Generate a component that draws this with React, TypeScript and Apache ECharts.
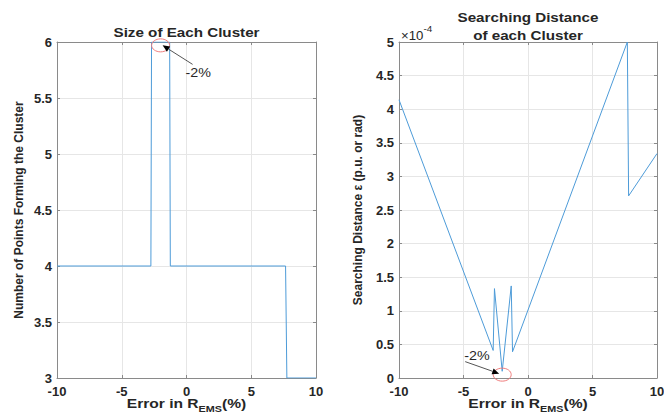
import React, { useEffect, useRef } from "react";
import * as echarts from "echarts";

// Left panel: size of each cluster vs error in R_EMS (%)
const clusterErr = [-10, -2.75, -2.7, -1.3, -1.25, 7.65, 7.75, 10];
const clusterSize = [4, 4, 6, 6, 4, 4, 3, 3];

// Right panel: searching distance epsilon vs error in R_EMS (%)
const distErr = [-10, -2.7, -2.6, -2.0, -1.3, -1.2, 7.7, 7.8, 10];
const distEps = [4.14e-4, 0.41e-4, 1.33e-4, 0.1e-4, 1.37e-4, 0.39e-4, 5.0e-4, 2.71e-4, 3.34e-4];

const xRange = [-10, 10];
const sizeRange = [3, 6];
const epsRange = [0, 5e-4];

const leftTitle = "Size of Each Cluster";
const rightTitle = ["Searching Distance", "of each Cluster"];
const leftYName = "Number of Points Forming the Cluster";
const rightYName = "Searching Distance \u03b5 (p.u. or rad)";
const xTitleParts = ["Error in R", "EMS", "(%)"];
const expParts = ["\u00d710", "-4"];
const annotation = "-2%";
const highlightX = -2;

const FONT = "'Liberation Sans', Arial, Helvetica, sans-serif";
const TXT = "#262626";
const AXIS = "#8a8a8a";
const GRIDC = "#e6e6e6";
const LINE = "#4d9bd8";
const SX = 1.17;

export default function App() {
  const ref = useRef<HTMLDivElement>(null);
  useEffect(() => {
    if (!ref.current) return;
    const chart = echarts.init(ref.current, undefined, { renderer: "svg" });

    const mainX = (gi: number) => ({
      gridIndex: gi,
      type: "value",
      min: xRange[0],
      max: xRange[1],
      interval: 5,
      position: "bottom",
      axisLine: { show: true, onZero: false, lineStyle: { color: AXIS } },
      axisTick: { show: true, inside: true, length: 3, lineStyle: { color: AXIS } },
      axisLabel: { fontFamily: FONT, fontSize: 13, lineHeight: 13, fontWeight: "bold", color: TXT, margin: 7 },
      splitLine: { show: true, lineStyle: { color: GRIDC } },
    });
    const topX = (gi: number) => ({
      gridIndex: gi,
      type: "value",
      min: xRange[0],
      max: xRange[1],
      interval: 5,
      position: "top",
      axisLine: { show: true, onZero: false, lineStyle: { color: AXIS } },
      axisTick: { show: true, inside: true, length: 3, lineStyle: { color: AXIS } },
      axisLabel: { show: false },
      splitLine: { show: false },
    });
    const rightY = (gi: number, r: number[], interval: number) => ({
      gridIndex: gi,
      type: "value",
      min: r[0],
      max: r[1],
      interval,
      position: "right",
      axisLine: { show: true, onZero: false, lineStyle: { color: AXIS } },
      axisTick: { show: true, inside: true, length: 3, lineStyle: { color: AXIS } },
      axisLabel: { show: false },
      splitLine: { show: false },
    });

    chart.setOption({
      animation: false,
      backgroundColor: "#ffffff",
      grid: [
        { left: 57, top: 42, width: 259, height: 336, show: false, outerBoundsMode: "none", containLabel: false },
        { left: 399, top: 42, width: 258, height: 336, show: false, outerBoundsMode: "none", containLabel: false },
      ],
      xAxis: [mainX(0), mainX(1), topX(0), topX(1)],
      yAxis: [
        {
          gridIndex: 0,
          type: "value",
          min: sizeRange[0],
          max: sizeRange[1],
          interval: 0.5,
          axisLine: { show: true, onZero: false, lineStyle: { color: AXIS } },
          axisTick: { show: true, inside: true, length: 3, lineStyle: { color: AXIS } },
          axisLabel: { fontFamily: FONT, fontSize: 13, lineHeight: 13, fontWeight: "bold", color: TXT, margin: 5 },
          splitLine: { show: true, lineStyle: { color: GRIDC } },
          name: leftYName,
          nameLocation: "middle",
          nameRotate: 90,
          nameGap: 32,
          nameTextStyle: { fontFamily: FONT, fontSize: 12, fontWeight: "bold", color: TXT },
        },
        {
          gridIndex: 1,
          type: "value",
          min: epsRange[0],
          max: epsRange[1],
          interval: 0.5e-4,
          axisLine: { show: true, onZero: false, lineStyle: { color: AXIS } },
          axisTick: { show: true, inside: true, length: 3, lineStyle: { color: AXIS } },
          axisLabel: {
            fontFamily: FONT,
            fontSize: 13,
            lineHeight: 13,
            fontWeight: "bold",
            color: TXT,
            margin: 5,
            formatter: (v: number) => String(+(v * 1e4).toFixed(1)),
          },
          splitLine: { show: true, lineStyle: { color: GRIDC } },
          name: rightYName,
          nameLocation: "middle",
          nameRotate: 90,
          nameGap: 35,
          nameTextStyle: { fontFamily: FONT, fontSize: 12, fontWeight: "bold", color: TXT },
        },
        rightY(0, sizeRange, 0.5),
        rightY(1, epsRange, 0.5e-4),
      ],
      series: [
        {
          type: "line",
          xAxisIndex: 0,
          yAxisIndex: 0,
          data: clusterErr.map((x, i) => [x, clusterSize[i]]),
          showSymbol: false,
          symbol: "none",
          lineStyle: { color: LINE, width: 1 },
        },
        {
          type: "line",
          xAxisIndex: 1,
          yAxisIndex: 1,
          data: distErr.map((x, i) => [x, distEps[i]]),
          showSymbol: false,
          symbol: "none",
          lineStyle: { color: LINE, width: 1 },
        },
      ],
    });

    const arrow = (tail: number[], tip: number[]) => {
      const dx = tip[0] - tail[0];
      const dy = tip[1] - tail[1];
      const len = Math.hypot(dx, dy);
      const ux = dx / len, uy = dy / len;
      const L = 7, W = 3;
      const bx = tip[0] - ux * L, by = tip[1] - uy * L;
      return [
        {
          type: "line",
          shape: { x1: tail[0], y1: tail[1], x2: bx, y2: by },
          style: { stroke: "#555", lineWidth: 1 },
          z: 100,
        },
        {
          type: "polygon",
          shape: {
            points: [
              [tip[0], tip[1]],
              [bx - uy * W, by + ux * W],
              [bx + uy * W, by - ux * W],
            ],
          },
          style: { fill: "#000" },
          z: 100,
        },
      ];
    };

    const c1 = chart.convertToPixel({ gridIndex: 0 }, [highlightX, 5.97]) as number[];
    const c2 = chart.convertToPixel({ gridIndex: 1 }, [highlightX, 0.05e-4]) as number[];
    const ellipse = (c: number[]) => ({
      type: "ellipse",
      shape: { cx: c[0], cy: c[1], rx: 9, ry: 6.5 },
      style: { fill: "none", stroke: "#f07d7d", lineWidth: 1 },
      z: 100,
    });
    const txt = (x: number, y: number, text: string, size = 13, bold = true, align = "center", sx = SX) => ({
      type: "text",
      x,
      y,
      scaleX: sx,
      style: {
        text,
        fontFamily: FONT,
        fontSize: size,
        fontWeight: bold ? "bold" : "normal",
        fill: TXT,
        textAlign: align,
        textVerticalAlign: "middle",
      },
      z: 100,
    });
    const xTitle = (cx: number) => ({
      type: "text",
      x: cx,
      y: 403,
      scaleX: 1.2,
      style: {
        text: `{a|${xTitleParts[0]}}{s|${xTitleParts[1]}}{a|${xTitleParts[2]}}`,
        textAlign: "center",
        textVerticalAlign: "middle",
        rich: {
          a: { fontFamily: FONT, fontSize: 13, fontWeight: "bold", fill: TXT, lineHeight: 15 },
          s: { fontFamily: FONT, fontSize: 9, fontWeight: "bold", fill: TXT, lineHeight: 10, padding: [11, 0, 0, 0] },
        },
      },
      z: 100,
    });
    const l0 = chart.convertToPixel({ gridIndex: 0 }, [0, 0]) as number[];
    const l1 = chart.convertToPixel({ gridIndex: 1 }, [0, 0]) as number[];

    chart.setOption({
      graphic: [
        txt(186.5, 32, leftTitle),
        txt(528, 17, rightTitle[0]),
        txt(528, 35, rightTitle[1]),
        {
          type: "text",
          x: 401,
          y: 36,
          scaleX: 1.1,
          style: {
            text: `{m|${expParts[0]}}{e|${expParts[1]}}`,
            textVerticalAlign: "middle",
            rich: {
              m: { fontFamily: FONT, fontSize: 12, fill: TXT, lineHeight: 16 },
              e: { fontFamily: FONT, fontSize: 9, fill: TXT, lineHeight: 16, padding: [0, 0, 14, 0] },
            },
          },
          z: 100,
        },
        xTitle(l0[0]),
        xTitle(l1[0]),
        ellipse(c1),
        ...arrow([c1[0] + 32, c1[1] + 19], [c1[0] + 2, c1[1]]),
        txt(c1[0] + 25, c1[1] + 27, annotation, 13, false, "left", 1.1),
        ellipse(c2),
        ...arrow([c2[0] - 37, c2[1] - 13], [c2[0] - 3, c2[1] - 1]),
        txt(c2[0] - 38, c2[1] - 19, annotation, 13, false, "left", 1.1),
      ],
    });

    return () => chart.dispose();
  }, []);

  return (
    <div
      ref={ref}
      style={{ position: "fixed", left: 0, top: 0, width: 664, height: 415, background: "#fff" }}
    />
  );
}
